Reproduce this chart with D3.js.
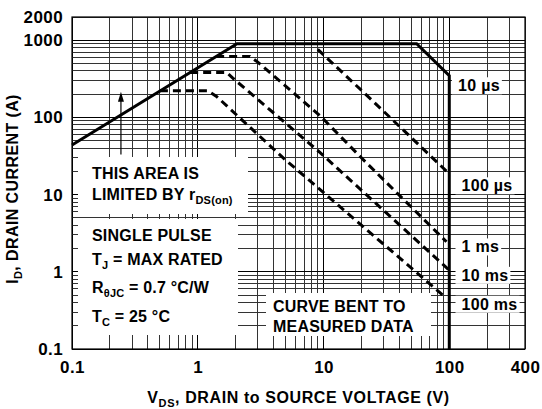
<!DOCTYPE html>
<html>
<head>
<meta charset="utf-8">
<script src="https://cdn.jsdelivr.net/npm/d3@7"></script>
<style>
  body { margin: 0; background: #fff; }
  text { font-family: "Liberation Sans", Arial, sans-serif; font-weight: bold; fill: #000; }
</style>
</head>
<body>
<div id="chart"></div>
<script>
// axis tick labels
const xTicks = [0.1, 1, 10, 100, 400]
const yTicks = [0.1, 1, 10, 100, 1000, 2000]

// 10 us boundary: rDS(on) limit, package limit, bent down to 100 V
const limit10us = [[0.1, 44], [2.05, 900], [55, 900], [100, 347], [100, 0.1]]
// dashed pulse curves [V, A]
const pulse100us = [[9, 760], [24, 170], [97, 19.5]]
const pulse1ms = [[1.4, 617], [2.6, 617], [3.0, 520], [9.4, 105], [20, 30], [95, 2.45]]
const pulse10ms = [[0.87, 382], [1.7, 382], [1.9, 323], [9.4, 35], [100, 1.05]]
const pulse100ms = [[0.5, 221], [1.2, 221], [1.41, 187], [4.8, 29.7], [92, 0.475]]

const pulseLabels = ["10 µs", "100 µs", "1 ms", "10 ms", "100 ms"]
const pulseLabelAt = [257, 13, 2.1, 0.9, 0.38]   // current where each label sits

const W = 542, H = 409
const MARGIN = { top: 17, right: 17, bottom: 60, left: 72 }
const WIDTH = W - MARGIN.left - MARGIN.right
const HEIGHT = H - MARGIN.top - MARGIN.bottom

const svg = d3.select("#chart").append("svg")
  .attr("width", W)
  .attr("height", H)

const g = svg.append("g")
  .attr("transform", `translate(${MARGIN.left},${MARGIN.top})`)

const x = d3.scaleLog().domain([0.1, 400]).range([0, WIDTH])
const y = d3.scaleLog().domain([0.1, 2000]).range([HEIGHT, 0])

// log grid 1..9 per decade
function logGrid(max) {
  const out = []
  for (const dec of [0.1, 1, 10, 100, 1000]) {
    for (let k = 1; k <= 9; k++) {
      const v = +(k * dec).toPrecision(3)
      if (v <= max) out.push(v)
    }
  }
  return out
}
const isDecade = v => Math.abs(Math.log10(v) - Math.round(Math.log10(v))) < 1e-6

const grid = g.append("g").attr("class", "grid").attr("shape-rendering", "crispEdges")
grid.selectAll(".vx").data(logGrid(400)).enter().append("line")
  .attr("x1", d => x(d)).attr("x2", d => x(d))
  .attr("y1", 0).attr("y2", HEIGHT)
  .attr("stroke", d => isDecade(d) ? "#000" : "#333")
  .attr("stroke-width", 1)
grid.selectAll(".hy").data(logGrid(2000)).enter().append("line")
  .attr("x1", 0).attr("x2", WIDTH)
  .attr("y1", d => y(d)).attr("y2", d => y(d))
  .attr("stroke", d => isDecade(d) ? "#000" : "#333")
  .attr("stroke-width", 1)

g.append("rect")
  .attr("width", WIDTH).attr("height", HEIGHT)
  .attr("fill", "none").attr("stroke", "#000").attr("stroke-width", 1.2)

// white note boxes (svg coords)
const boxes = [
  [78, 157, 170, 57],
  [78, 219, 160, 116],
  [266, 293, 165, 43]
]
svg.selectAll(".box").data(boxes).enter().append("rect")
  .attr("x", d => d[0]).attr("y", d => d[1])
  .attr("width", d => d[2]).attr("height", d => d[3])
  .attr("fill", "#fff")

const line = d3.line().x(d => x(d[0])).y(d => y(d[1]))

g.append("path")
  .attr("d", line(limit10us))
  .attr("fill", "none")
  .attr("stroke", "#000")
  .attr("stroke-width", 3)

for (const c of [pulse100us, pulse1ms, pulse10ms, pulse100ms]) {
  g.append("path")
    .attr("d", line(c))
    .attr("fill", "none")
    .attr("stroke", "#000")
    .attr("stroke-width", 3)
    .attr("stroke-dasharray", "8,5")
}

// arrow pointing into the rDS(on) area
const ax = x(0.245), ay0 = y(33), ay1 = y(215)
g.append("line")
  .attr("x1", ax).attr("x2", ax)
  .attr("y1", ay0).attr("y2", ay1 + 8)
  .attr("stroke", "#000").attr("stroke-width", 1.2)
g.append("path")
  .attr("d", `M${ax},${ay1} L${ax - 3},${ay1 + 10} L${ax + 3},${ay1 + 10} Z`)
  .attr("fill", "#000")

// pulse labels with white boxes
pulseLabels.forEach((lab, i) => {
  const t = svg.append("text")
    .attr("x", i === 0 ? 458 : 461.5)
    .attr("y", MARGIN.top + y(pulseLabelAt[i]) + 5.5)
    .attr("font-size", 16)
    .attr("letter-spacing", 0.3)
    .text(lab)
  const b = t.node().getBBox()
  svg.insert("rect", "text")
    .attr("x", b.x - 6).attr("y", b.y)
    .attr("width", b.width + 8).attr("height", b.height)
    .attr("fill", "#fff")
})

// axes
const yAxis = g.append("g")
  .call(d3.axisLeft(y).tickValues(yTicks).tickFormat(d => String(d)).tickSize(0).tickPadding(9))
yAxis.select(".domain").remove()
const xAxis = g.append("g")
  .attr("transform", `translate(0,${HEIGHT})`)
  .call(d3.axisBottom(x).tickValues(xTicks).tickFormat(d => String(d)).tickSize(0).tickPadding(12))
xAxis.select(".domain").remove()
svg.selectAll(".tick text")
  .attr("font-family", null)
  .attr("font-size", 17)
  .attr("letter-spacing", 0.4)
  .attr("fill", "#000")

// notes
function note(px, py, parts, size) {
  const t = svg.append("text").attr("x", px).attr("y", py).attr("font-size", size || 16)
    .attr("letter-spacing", 0.2)
  parts.forEach(p => {
    if (typeof p === "string") {
      t.append("tspan").text(p)
    } else {
      t.append("tspan").attr("font-size", p.size || 11).attr("dy", p.dy).text(p.t)
    }
  })
  return t
}
note(92, 179, ["THIS AREA IS"])
note(92, 200, ["LIMITED BY r", { t: "DS(on)", dy: 4 }])
note(92, 241, ["SINGLE PULSE"])
note(92, 265, ["T", { t: "J", dy: 4 }, { t: " = MAX RATED", dy: -4, size: 16 }])
note(92, 293, ["R", { t: "θJC", dy: 4 }, { t: " = 0.7 °C/W", dy: -4, size: 16 }])
note(92, 322, ["T", { t: "C", dy: 4 }, { t: " = 25 °C", dy: -4, size: 16 }])
note(273, 311.5, ["CURVE BENT TO"])
note(273, 332, ["MEASURED DATA"])

// axis titles
svg.append("text")
  .attr("x", MARGIN.left + WIDTH / 2)
  .attr("y", 403)
  .attr("text-anchor", "middle")
  .attr("font-size", 16)
  .attr("letter-spacing", 0.6)
  .call(t => {
    t.append("tspan").text("V")
    t.append("tspan").attr("font-size", 11).attr("dy", 4).text("DS")
    t.append("tspan").attr("dy", -4).text(", DRAIN to SOURCE VOLTAGE (V)")
  })

svg.append("text")
  .attr("transform", "translate(18,189) rotate(-90)")
  .attr("text-anchor", "middle")
  .attr("font-size", 16)
  .attr("letter-spacing", 0.4)
  .call(t => {
    t.append("tspan").text("I")
    t.append("tspan").attr("font-size", 11).attr("dy", 4).text("D")
    t.append("tspan").attr("dy", -4).text(", DRAIN CURRENT (A)")
  })
</script>
</body>
</html>
